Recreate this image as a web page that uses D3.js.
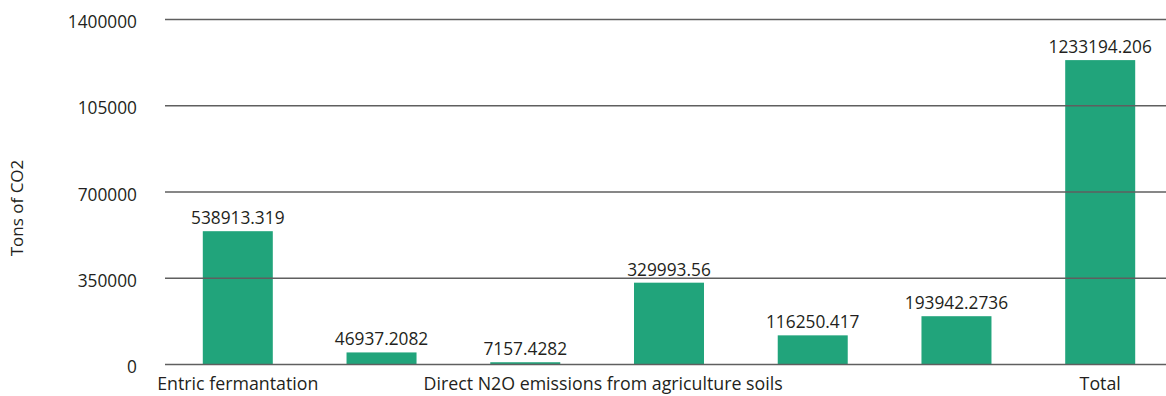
<!DOCTYPE html>
<html>
<head>
<meta charset="utf-8">
<script src="https://cdn.jsdelivr.net/npm/d3@7"></script>
<style>
  html, body { margin: 0; padding: 0; background: #fff; }
  svg { display: block; }
  text { font-family: "Open Sans", "Noto Sans", sans-serif; fill: #231f20; }
</style>
</head>
<body>
<svg id="chart" width="1166" height="396"></svg>
<script>
// Emission sources (tons of CO2)
const categories = ["c1", "c2", "c3", "c4", "c5", "c6", "c7"];
const categoryLabels = ["Entric fermantation", "", "", "", "", "", "Total"];
const groupLabel = "Direct N2O emissions from agriculture soils";
const values = [538913.319, 46937.2082, 7157.4282, 329993.56, 116250.417, 193942.2736, 1233194.206];
const valueLabels = ["538913.319", "46937.2082", "7157.4282", "329993.56", "116250.417", "193942.2736", "1233194.206"];
const tickValues = [0, 350000, 700000, 1050000, 1400000];
const tickLabels = ["0", "350000", "700000", "105000", "1400000"];
const yTitle = "Tons of CO2";

const svg = d3.select("#chart");
const plotLeft = 165, plotRight = 1166;

const x = d3.scaleBand()
  .domain(categories)
  .range([166, 1172])
  .paddingInner(0.513)
  .paddingOuter(0.256);

const y = d3.scaleLinear()
  .domain([0, 1400000])
  .range([364, 19]);

// Bars
svg.append("g").selectAll("rect")
  .data(values)
  .join("rect")
  .attr("x", (d, i) => x(categories[i]))
  .attr("y", d => y(d))
  .attr("width", x.bandwidth())
  .attr("height", d => y(0) - y(d))
  .attr("fill", "#21a47b");

// Gridlines (drawn over the bars) and tick labels
const yAxis = d3.axisLeft(y)
  .tickValues(tickValues)
  .tickSize(-(plotRight - plotLeft))
  .tickPadding(28)
  .tickFormat((d, i) => tickLabels[i]);

const gAxis = svg.append("g")
  .attr("transform", `translate(${plotLeft},0)`)
  .call(yAxis);
gAxis.select(".domain").remove();
gAxis.selectAll(".tick line")
  .attr("stroke", "#5f5f5f")
  .attr("stroke-width", 1.6);
gAxis.selectAll(".tick text")
  .attr("font-size", 17.3)
  .attr("dy", "0.5em")
  .style("fill", "#231f20")
  .style("font-family", "\"Open Sans\", sans-serif");

// Value labels above bars
svg.append("g").selectAll("text")
  .data(values)
  .join("text")
  .attr("x", (d, i) => x(categories[i]) + x.bandwidth() / 2)
  .attr("y", d => y(d) - 7)
  .attr("text-anchor", "middle")
  .attr("font-size", 17.3)
  .text((d, i) => valueLabels[i]);

// Category labels
svg.append("g").selectAll("text")
  .data(categoryLabels)
  .join("text")
  .attr("x", (d, i) => x(categories[i]) + x.bandwidth() / 2)
  .attr("y", 390)
  .attr("text-anchor", "middle")
  .attr("font-size", 17.8)
  .text(d => d);

svg.append("text")
  .attr("x", (x(categories[2]) + x(categories[3])) / 2 + x.bandwidth() / 2 + 6)
  .attr("y", 390)
  .attr("text-anchor", "middle")
  .attr("font-size", 17.8)
  .text(groupLabel);

// Y-axis title
svg.append("text")
  .attr("transform", "translate(23,208) rotate(-90)")
  .attr("text-anchor", "middle")
  .attr("font-size", 17)
  .text(yTitle);
</script>
</body>
</html>
